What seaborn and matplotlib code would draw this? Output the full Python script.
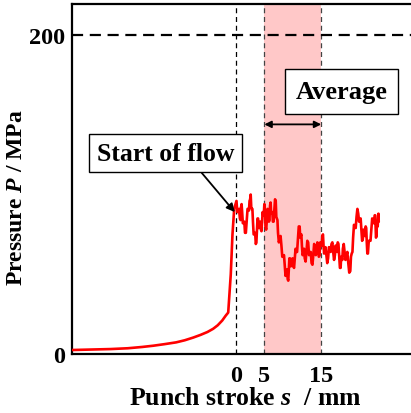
import numpy as np
import pandas as pd
import matplotlib
matplotlib.use("Agg")
import matplotlib.pyplot as plt
import seaborn as sns

# Punch stroke s (mm) and pressure P (MPa): compression stage before flow
s_pre = [-28.8, -25, -22, -19, -16.5, -14.5, -12.5, -10.5, -9, -7.5, -6.2, -5, -4,
         -3.2, -2.4, -1.8, -1.35, -1.2, -0.9, -0.6, -0.3]
p_pre = [2.5, 2.8, 3.1, 3.6, 4.4, 5.2, 6.2, 7.3, 8.6, 10.3, 12, 13.8, 15.8,
         18, 21, 24, 26, 34, 50, 75, 91]

# Flow stage after the start of flow
s_flow = [0.1, 0.25, 0.4, 0.55, 0.7, 0.8, 0.9, 1.0, 1.1, 1.22,
          1.35, 1.48, 1.6, 1.75, 1.9, 2.05, 2.2, 2.3, 2.4, 2.5,
          2.6, 2.7, 2.8, 2.9, 3.0, 3.12, 3.25, 3.38, 3.5, 3.6,
          3.7, 3.8, 3.9, 4.02, 4.15, 4.28, 4.4, 4.5, 4.6, 4.7,
          4.8, 4.9, 5.0, 5.1, 5.2, 5.32, 5.45, 5.58, 5.7, 5.8,
          5.9, 6.0, 6.1, 6.2, 6.3, 6.4, 6.5, 6.62, 6.75, 6.88,
          7.0, 7.1, 7.2, 7.3, 7.4, 7.55, 7.7, 7.85, 8.0, 8.15,
          8.3, 8.45, 8.6, 8.72, 8.85, 8.98, 9.1, 9.2, 9.3, 9.4,
          9.5, 9.65, 9.8, 9.95, 10.1, 10.22, 10.35, 10.48, 10.6, 10.75,
          10.9, 11.05, 11.2, 11.3, 11.4, 11.5, 11.6, 11.72, 11.85, 11.98,
          12.1, 12.25, 12.4, 12.55, 12.7, 12.85, 13.0, 13.15, 13.3, 13.45,
          13.6, 13.75, 13.9, 14.05, 14.2, 14.32, 14.45, 14.58, 14.7, 14.82,
          14.95, 15.08, 15.2, 15.3, 15.4, 15.5, 15.6, 15.75, 15.9, 16.05,
          16.2, 16.35, 16.5, 16.65, 16.8, 16.95, 17.1, 17.25, 17.4, 17.52,
          17.65, 17.78, 17.9, 18.02, 18.15, 18.28, 18.4, 18.5, 18.6, 18.7,
          18.8, 18.95, 19.1, 19.25, 19.4, 19.58, 19.75, 19.92, 20.1, 20.22,
          20.35, 20.48, 20.6, 20.75, 20.9, 21.05, 21.2, 21.35, 21.5, 21.65,
          21.8, 21.92, 22.05, 22.18, 22.3, 22.42, 22.55, 22.68, 22.8, 22.9,
          23.0, 23.1, 23.2, 23.35, 23.5, 23.65, 23.8, 23.95, 24.1, 24.25,
          24.4, 24.48, 24.55, 24.62, 24.7, 24.78, 24.85, 24.92, 25.0, 25.05,
          25.1]
p_flow = [96, 89, 90, 91, 85, 84, 92, 94, 89, 82,
          82, 83, 76, 76, 84, 91, 91, 90, 96, 97,
          100, 92, 91, 91, 83, 75, 75, 76, 69, 70,
          78, 85, 85, 79, 81, 83, 78, 77, 83, 89,
          87, 87, 94, 91, 80, 78, 85, 91, 89, 83,
          84, 93, 95, 88, 88, 89, 83, 83, 90, 97,
          96, 86, 85, 84, 76, 70, 72, 74, 68, 61,
          61, 62, 55, 49, 51, 53, 47, 46, 53, 60,
          60, 55, 58, 60, 55, 54, 60, 66, 64, 64,
          72, 80, 80, 73, 74, 75, 68, 62, 63, 66,
          60, 58, 64, 71, 70, 62, 63, 64, 57, 56,
          62, 69, 68, 62, 64, 70, 68, 61, 62, 70,
          70, 68, 74, 75, 68, 63, 65, 67, 62, 57,
          60, 67, 66, 64, 69, 70, 64, 59, 62, 68,
          66, 64, 70, 69, 61, 54, 54, 61, 60, 59,
          66, 69, 64, 59, 62, 64, 57, 51, 52, 61,
          63, 64, 73, 81, 80, 79, 86, 91, 88, 83,
          85, 85, 78, 71, 72, 78, 76, 74, 80, 79,
          70, 63, 63, 71, 71, 71, 78, 85, 84, 82,
          87, 87, 80, 73, 74, 82, 82, 80, 86, 88,
          83]

x_ticks = [0, 5, 15]
y_ticks = [0, 200]
avg_range = (5, 15)
flow_start = 0
p_limit = 200

df = pd.DataFrame({"s": s_pre + s_flow, "P": p_pre + p_flow})

sns.set_theme(style="white")
plt.rcParams["font.family"] = ["Liberation Serif", "DejaVu Serif"]
plt.rcParams["font.weight"] = "bold"
plt.rcParams["text.color"] = "black"
plt.rcParams["axes.labelcolor"] = "black"
plt.rcParams["xtick.color"] = "black"
plt.rcParams["ytick.color"] = "black"
plt.rcParams["mathtext.fontset"] = "custom"
plt.rcParams["mathtext.rm"] = "Liberation Serif:bold"
plt.rcParams["mathtext.it"] = "Liberation Serif:italic:bold"
plt.rcParams["mathtext.bf"] = "Liberation Serif:bold"

fig = plt.figure(figsize=(4.11, 4.14), dpi=100)
ax = fig.add_axes([72 / 411, 59 / 414, 346 / 411, 350 / 414])

# averaging window
ax.axvspan(*avg_range, color="#ffc8c8", zorder=0, lw=0)
for xv in avg_range:
    ax.axvline(xv, color="#444444", ls=(0, (4, 3)), lw=0.9, zorder=1)
ax.axvline(flow_start, color="black", ls=(0, (4, 3)), lw=0.9, zorder=1)
ax.axhline(p_limit, color="black", ls=(0, (5, 3)), lw=1.6, zorder=1)

sns.lineplot(data=df, x="s", y="P", ax=ax, color="#ff0000", lw=1.9,
             sort=False, estimator=None, zorder=3)

ax.set_xlim(-28.8, 32)
ax.set_ylim(0, 219.5)
ax.set_xticks(x_ticks)
ax.set_yticks(y_ticks)
ax.set_xticklabels([str(v) for v in x_ticks], fontsize=17.5, fontweight="bold")
ax.set_yticklabels([str(v) for v in y_ticks], fontsize=17.5, fontweight="bold")
ax.tick_params(axis="y", direction="out", length=4, width=1.5, color="black", pad=1)
ax.tick_params(axis="x", length=0, pad=8)

for side in ["left", "top", "bottom", "right"]:
    ax.spines[side].set_color("black")
    ax.spines[side].set_linewidth(1.6)

ax.set_xlabel(r"Punch stroke $s$  / mm", fontsize=18.5, fontweight="bold", labelpad=0)
ax.set_ylabel(r"Pressure $P$ / MPa", fontsize=17, fontweight="bold")
ax.yaxis.set_label_coords(-0.13, 0.449)

# annotations
ax.annotate("Start of flow", xy=(-0.2, 89), xytext=(-12.3, 126),
            fontsize=18.5, fontweight="bold", ha="center", va="center",
            bbox=dict(boxstyle="square,pad=0.3", fc="white", ec="black", lw=1.0),
            arrowprops=dict(arrowstyle="-|>", color="black", lw=1.3,
                            mutation_scale=12, shrinkA=0, shrinkB=0,
                            relpos=(0.71, 0.0)),
            zorder=5)
ax.annotate("", xy=(avg_range[0], 144), xytext=(avg_range[1], 144),
            arrowprops=dict(arrowstyle="<|-|>", color="black", lw=1.3,
                            mutation_scale=10, shrinkA=0, shrinkB=0), zorder=5)
ax.text(18.6, 164.6, "Average", fontsize=19, fontweight="bold", ha="center", va="center",
        bbox=dict(boxstyle="square,pad=0.4", fc="white", ec="black", lw=1.0), zorder=5)

fig.savefig("out.png", dpi=100)
